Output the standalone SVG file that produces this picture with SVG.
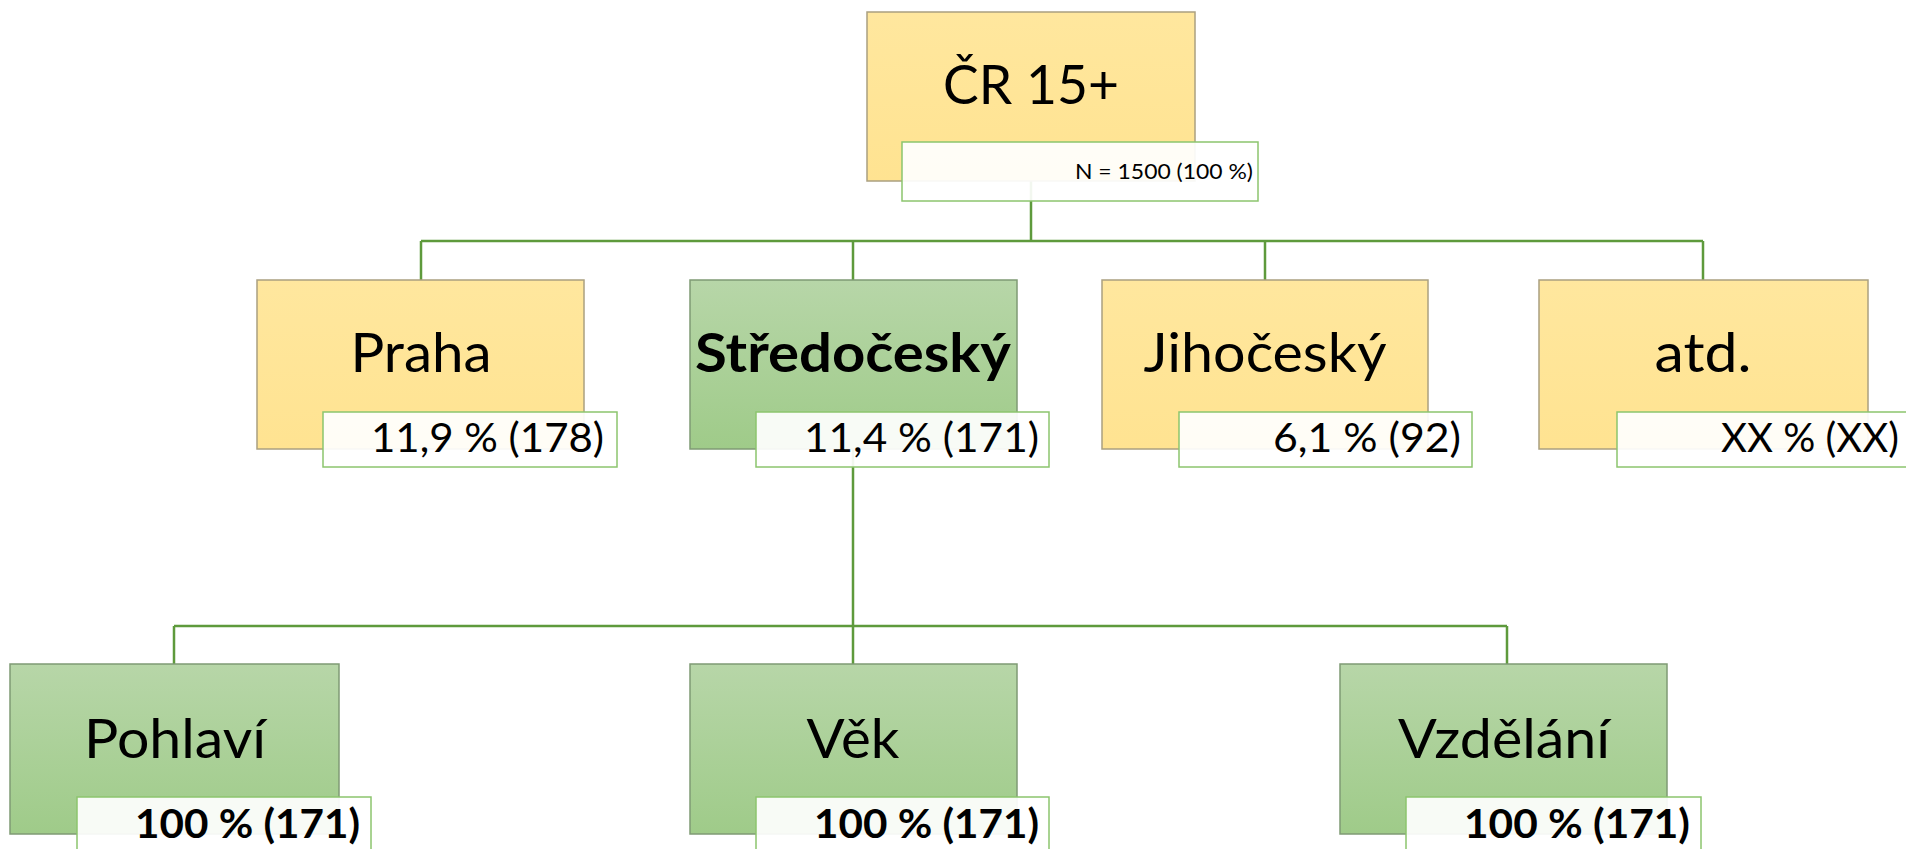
<svg xmlns="http://www.w3.org/2000/svg" width="1906" height="849" viewBox="0 0 1906 849">
<defs>
<linearGradient id="gy" x1="0" y1="0" x2="0" y2="1">
<stop offset="0" stop-color="#FFE79E"/>
<stop offset="1" stop-color="#FFE391"/>
</linearGradient>
<linearGradient id="gg" x1="0" y1="0" x2="0" y2="1">
<stop offset="0" stop-color="#B7D6A8"/>
<stop offset="1" stop-color="#9FCB89"/>
</linearGradient>
<style>
.yb{fill:url(#gy);stroke:#ABA080;stroke-width:1.5}
.gb{fill:url(#gg);stroke:#7F9A74;stroke-width:1.5}
.lb{fill:#FFFFFF;fill-opacity:0.92;stroke:#8CC56E;stroke-width:1.5}
.t{font-family:Lato,"Liberation Sans",sans-serif;fill:#000;font-size:54px;text-anchor:middle}
.tb{font-weight:bold}
.l{font-family:Lato,"Liberation Sans",sans-serif;fill:#000;font-size:40px;text-anchor:end}
.s{font-family:Lato,"Liberation Sans",sans-serif;fill:#000;font-size:22px;text-anchor:end}
.c{fill:none;stroke:#5E9A3C;stroke-width:2.5}
</style>
</defs>
<rect width="1906" height="849" fill="#FFFFFF"/>
<g id="connectors">
<path class="c" d="M1031,181 V241 M421,241 H1703 M421,241 V280 M853,241 V280 M1265,241 V280 M1703,241 V280"/>
<path class="c" d="M853,449 V626 M174,626 H1507 M174,626 V664 M853,626 V664 M1507,626 V664"/>
</g>
<g id="n-cr">
<rect class="yb" x="867" y="12" width="328" height="169"/>
<text class="t" x="1031" y="104" textLength="176" lengthAdjust="spacingAndGlyphs">ČR 15+</text>
<rect class="lb" x="902" y="142" width="356" height="59"/>
<text class="s" x="1253" y="179" textLength="178" lengthAdjust="spacingAndGlyphs">N = 1500 (100 %)</text>
</g>
<g id="n-praha">
<rect class="yb" x="257" y="280" width="327" height="169"/>
<text class="t" x="421" y="372" textLength="141" lengthAdjust="spacingAndGlyphs">Praha</text>
<rect class="lb" x="323" y="412" width="294" height="55"/>
<text class="l" x="604" y="452" textLength="233" lengthAdjust="spacingAndGlyphs">11,9 % (178)</text>
</g>
<g id="n-stredocesky">
<rect class="gb" x="690" y="280" width="327" height="169"/>
<text class="t tb" x="853" y="372" textLength="316" lengthAdjust="spacingAndGlyphs">Středočeský</text>
<rect class="lb" x="756" y="412" width="293" height="55"/>
<text class="l" x="1039" y="452" textLength="235" lengthAdjust="spacingAndGlyphs">11,4 % (171)</text>
</g>
<g id="n-jihocesky">
<rect class="yb" x="1102" y="280" width="326" height="169"/>
<text class="t" x="1265" y="372" textLength="243" lengthAdjust="spacingAndGlyphs">Jihočeský</text>
<rect class="lb" x="1179" y="412" width="293" height="55"/>
<text class="l" x="1461" y="452" textLength="188" lengthAdjust="spacingAndGlyphs">6,1 % (92)</text>
</g>
<g id="n-atd">
<rect class="yb" x="1539" y="280" width="329" height="169"/>
<text class="t" x="1703" y="372" textLength="97" lengthAdjust="spacingAndGlyphs">atd.</text>
<rect class="lb" x="1617" y="412" width="295" height="55"/>
<text class="l" x="1899" y="452" textLength="178" lengthAdjust="spacingAndGlyphs">XX % (XX)</text>
</g>
<g id="n-pohlavi">
<rect class="gb" x="10" y="664" width="329" height="170"/>
<text class="t" x="175" y="758" textLength="182" lengthAdjust="spacingAndGlyphs">Pohlaví</text>
<rect class="lb" x="77" y="797" width="294" height="60"/>
<text class="l tb" x="360" y="838" textLength="225" lengthAdjust="spacingAndGlyphs">100 % (171)</text>
</g>
<g id="n-vek">
<rect class="gb" x="690" y="664" width="327" height="170"/>
<text class="t" x="853" y="758" textLength="93" lengthAdjust="spacingAndGlyphs">Věk</text>
<rect class="lb" x="756" y="797" width="293" height="60"/>
<text class="l tb" x="1039" y="838" textLength="225" lengthAdjust="spacingAndGlyphs">100 % (171)</text>
</g>
<g id="n-vzdelani">
<rect class="gb" x="1340" y="664" width="327" height="170"/>
<text class="t" x="1504" y="758" textLength="212" lengthAdjust="spacingAndGlyphs">Vzdělání</text>
<rect class="lb" x="1406" y="797" width="295" height="60"/>
<text class="l tb" x="1690" y="838" textLength="226" lengthAdjust="spacingAndGlyphs">100 % (171)</text>
</g>
</svg>
